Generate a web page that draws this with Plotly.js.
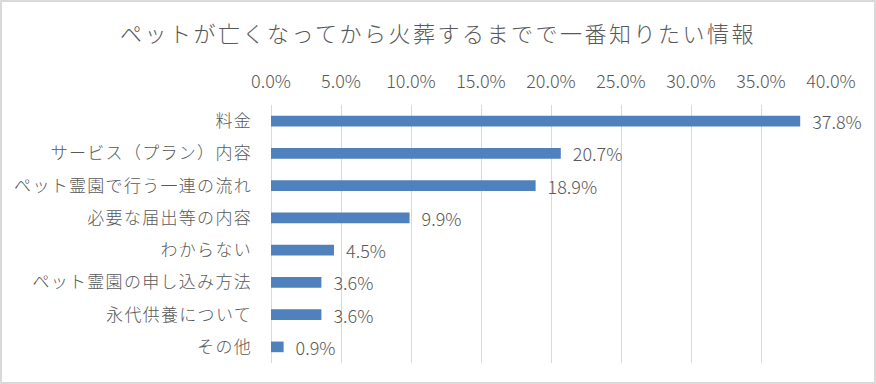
<!DOCTYPE html>
<html>
<head>
<meta charset="utf-8">
<script src="https://cdn.plot.ly/plotly-3.0.1.min.js"></script>
<style>
  html, body { margin: 0; padding: 0; background: #fff; }
  #wrap { position: relative; width: 876px; height: 384px; }
  #chart { width: 876px; height: 384px; }
  #frame { position: absolute; left: 0; top: 0; width: 876px; height: 384px; box-sizing: border-box; border: 2px solid #d9d9d9; pointer-events: none; }
  .ytick text { letter-spacing: 1.3px; }
  .gtitle { letter-spacing: 2.5px; }
</style>
</head>
<body>
<div id="wrap">
  <div id="chart"></div>
  <div id="frame"></div>
</div>
<script>
const chartTitle = 'ペットが亡くなってから火葬するまでで一番知りたい情報';
const categories = ['料金', 'サービス（プラン）内容', 'ペット霊園で行う一連の流れ', '必要な届出等の内容', 'わからない', 'ペット霊園の申し込み方法', '永代供養について', 'その他'];
const values = [37.8, 20.7, 18.9, 9.9, 4.5, 3.6, 3.6, 0.9];
const tickValues = [0, 5, 10, 15, 20, 25, 30, 35, 40];

const font = '"Noto Sans CJK JP", "Noto Sans", sans-serif';
const gray = '#595959';

const trace = {
  type: 'bar',
  orientation: 'h',
  x: values,
  y: categories,
  marker: { color: '#4f81bd' },
  texttemplate: '\u2002%{x:.1f}%',
  textposition: 'outside',
  constraintext: 'none',
  cliponaxis: false,
  textfont: { family: font, size: 18, color: gray, weight: 300 },
  hoverinfo: 'skip'
};

const layout = {
  width: 876,
  height: 384,
  margin: { l: 271, r: 45, t: 105, b: 21, pad: 0 },
  paper_bgcolor: '#ffffff',
  plot_bgcolor: '#ffffff',
  showlegend: false,
  bargap: 0.67,
  title: {
    text: chartTitle,
    font: { family: font, size: 22, color: gray, weight: 300 },
    x: 0.5, xref: 'container', xanchor: 'center',
    y: 1 - 34 / 384, yref: 'container', yanchor: 'middle'
  },
  xaxis: {
    side: 'top',
    range: [0, 40],
    tickvals: tickValues,
    ticktext: tickValues.map(v => v.toFixed(1) + '%'),
    showgrid: true,
    gridcolor: '#d9d9d9',
    gridwidth: 1,
    zeroline: true,
    zerolinecolor: '#d9d9d9',
    zerolinewidth: 1,
    showline: false,
    ticks: '',
    ticklabelstandoff: 12,
    tickfont: { family: font, size: 18, color: gray, weight: 300 },
    fixedrange: true
  },
  yaxis: {
    autorange: 'reversed',
    showgrid: false,
    zeroline: false,
    showline: false,
    ticks: '',
    ticklabelstandoff: 18,
    tickfont: { family: font, size: 17, color: gray, weight: 300 },
    fixedrange: true
  }
};

Plotly.newPlot('chart', [trace], layout, { staticPlot: true, displayModeBar: false });
</script>
</body>
</html>
